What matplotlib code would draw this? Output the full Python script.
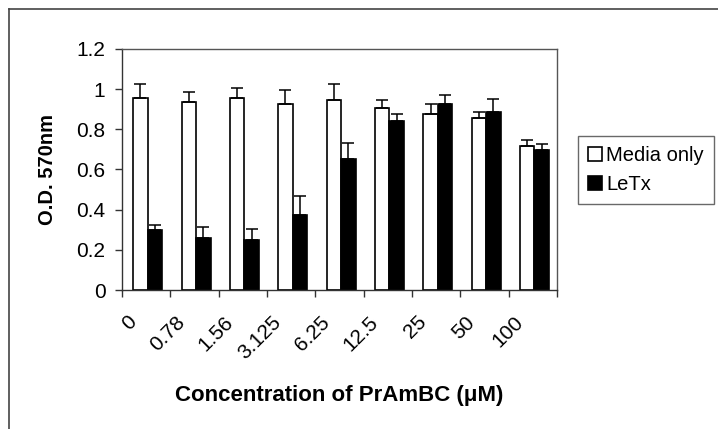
import numpy as np
import matplotlib
matplotlib.use('Agg')
import matplotlib.pyplot as plt
from matplotlib.lines import Line2D
from matplotlib.transforms import ScaledTranslation

plt.rcParams['font.family'] = ['Liberation Sans', 'DejaVu Sans']

concentrations = ['0', '0.78', '1.56', '3.125', '6.25', '12.5', '25', '50', '100']
mediaOnly = [0.955, 0.935, 0.955, 0.925, 0.945, 0.905, 0.876, 0.856, 0.715]
mediaErr = [0.07, 0.05, 0.05, 0.07, 0.08, 0.04, 0.05, 0.028, 0.033]
letx = [0.299, 0.258, 0.249, 0.374, 0.651, 0.839, 0.926, 0.886, 0.698]
letxErr = [0.025, 0.054, 0.053, 0.096, 0.083, 0.037, 0.046, 0.066, 0.028]

fig = plt.figure(figsize=(7.18, 4.29), dpi=100)
fig.patch.set_facecolor('white')
ax = fig.add_axes([0.170, 0.324, 0.606, 0.562])

x = np.arange(len(concentrations))
width = 0.3
zeros = np.zeros(len(x))
ax.bar(x - width / 2 + 0.03, mediaOnly, width, color='white', edgecolor='black',
       linewidth=1.2, label='Media only', zorder=2)
ax.bar(x + width / 2 + 0.03, letx, width, color='black', edgecolor='black',
       linewidth=1.2, label='LeTx', zorder=2)
ax.errorbar(x - width / 2 + 0.03, mediaOnly, yerr=[zeros, mediaErr], fmt='none',
            ecolor='black', elinewidth=1.1, capsize=4.5, capthick=1.1, zorder=3)
ax.errorbar(x + width / 2 + 0.03, letx, yerr=[zeros, letxErr], fmt='none',
            ecolor='black', elinewidth=1.1, capsize=4.5, capthick=1.1, zorder=3)

ax.set_xlim(-0.5, len(x) - 0.5)
ax.set_ylim(0, 1.2)
ax.set_yticks([0, 0.2, 0.4, 0.6, 0.8, 1.0, 1.2])
ax.set_yticklabels(['0', '0.2', '0.4', '0.6', '0.8', '1', '1.2'])
ax.set_xticks(x)
ax.set_xticks(np.arange(len(x) + 1) - 0.5, minor=True)
ax.set_xticklabels(concentrations, rotation=45, ha='right', va='center',
                   rotation_mode='anchor')
ax.tick_params(axis='x', which='major', length=0, pad=21, labelsize=15)
ax.tick_params(axis='x', which='minor', length=5, width=1, color='#333333')
ax.tick_params(axis='y', length=5, width=1, color='#333333', labelsize=15, pad=7)
for lab in ax.get_xticklabels():
    lab.set_transform(lab.get_transform() + ScaledTranslation(-0.13, 0, fig.dpi_scale_trans))

for s in ax.spines.values():
    s.set_color('#555555')
    s.set_linewidth(1.0)
ax.spines['left'].set_color('#333333')
ax.spines['bottom'].set_color('#333333')

ax.set_ylabel('O.D. 570nm', fontsize=14.5, fontweight='bold')
ax.yaxis.set_label_coords(-0.15, 0.5)
ax.set_xlabel('Concentration of PrAmBC (\u03bcM)', fontsize=16, fontweight='bold')
ax.xaxis.set_label_coords(0.5, -0.395)

leg = ax.legend(loc='center left', bbox_to_anchor=(578 / 718, 1 - 170 / 429),
                bbox_transform=fig.transFigure, fontsize=14.5, frameon=True,
                fancybox=False, handlelength=0.7, handleheight=0.7,
                handletextpad=0.2, borderpad=0.5, labelspacing=0.5,
                borderaxespad=0)
leg.get_frame().set_edgecolor('#444444')
leg.get_frame().set_linewidth(1.0)

# outer frame of the original figure (left and top edges only)
fig.add_artist(Line2D([9 / 718, 9 / 718], [0, 1 - 9 / 429], transform=fig.transFigure,
                      color='#444444', linewidth=1.2))
fig.add_artist(Line2D([9 / 718, 1], [1 - 9 / 429, 1 - 9 / 429], transform=fig.transFigure,
                      color='#444444', linewidth=1.2))

fig.savefig('out.png', dpi=100, facecolor='white')
